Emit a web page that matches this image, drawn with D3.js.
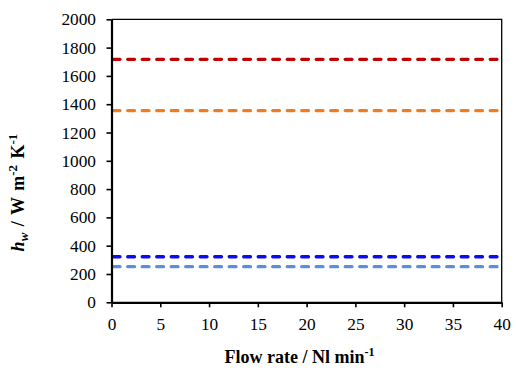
<!DOCTYPE html>
<html>
<head>
<meta charset="utf-8">
<script src="https://cdn.jsdelivr.net/npm/d3@7"></script>
<style>
  html, body { margin: 0; padding: 0; background: #fff; }
</style>
</head>
<body>
<svg id="chart" width="516" height="370"></svg>
<script>
// Heat transfer coefficient h_w versus flow rate, one constant level per case
const flowRates = [0, 40];
const seriesNames = ["case A", "case B", "case C", "case D"];
const seriesLevels = [1717, 1355, 322, 252];
const seriesColors = ["#C00000", "#ED7D22", "#0A0AF5", "#5B90D8"];
const xTicks = [0, 5, 10, 15, 20, 25, 30, 35, 40];
const yTicks = [0, 200, 400, 600, 800, 1000, 1200, 1400, 1600, 1800, 2000];

const serif = '"Liberation Serif", "Times New Roman", serif';
const svg = d3.select("#chart");
const plot = { left: 111.5, top: 19.3, right: 501.7, bottom: 302.3 };

const x = d3.scaleLinear().domain([0, 40]).range([plot.left, plot.right]);
const y = d3.scaleLinear().domain([0, 2000]).range([plot.bottom, plot.top]);

// frame on top and right
svg.append("path")
  .attr("d", `M${plot.left},${plot.top}H${plot.right}V${plot.bottom}`)
  .attr("fill", "none").attr("stroke", "#000").attr("stroke-width", 1.3);

// series: dashed horizontal lines with rounded dash ends
const line = d3.line().x(d => x(d[0])).y(d => y(d[1]));
seriesLevels.forEach((v, i) => {
  svg.append("path")
    .datum(flowRates.map(f => [f, v]))
    .attr("d", line)
    .attr("fill", "none")
    .attr("stroke", seriesColors[i])
    .attr("stroke-width", 3.3)
    .attr("stroke-dasharray", "6.8,7.7")
    .attr("stroke-dashoffset", -1.7)
    .attr("stroke-linecap", "round");
});

// axes
const yAxis = svg.append("g")
  .attr("transform", `translate(${plot.left},0)`)
  .call(d3.axisLeft(y).tickValues(yTicks).tickFormat(d3.format("d"))
    .tickSize(5).tickPadding(10.5).tickSizeOuter(0));
const xAxis = svg.append("g")
  .attr("transform", `translate(0,${plot.bottom})`)
  .call(d3.axisBottom(x).tickValues(xTicks).tickFormat(d3.format("d"))
    .tickSize(5).tickPadding(10).tickSizeOuter(0));

[yAxis, xAxis].forEach(g => {
  g.attr("font-family", serif).attr("font-size", 17.3);
  g.select(".domain").attr("stroke", "#000").attr("stroke-width", 2.2);
  g.selectAll(".tick line").attr("stroke", "#000").attr("stroke-width", 1.6);
  g.selectAll(".tick text").attr("fill", "#000");
});

// x axis title
const xt = svg.append("text")
  .attr("x", 299.5)
  .attr("y", 363)
  .attr("text-anchor", "middle")
  .attr("font-family", serif)
  .attr("fill", "#000")
  .style("font-size", "18px")
  .style("font-weight", "bold");
xt.append("tspan").text("Flow rate / Nl min");
xt.append("tspan").attr("dy", -7).style("font-size", "12px").text("-1");

// y axis title
const yt = svg.append("text")
  .attr("transform", "translate(24,192.5) rotate(-90)")
  .attr("text-anchor", "middle")
  .attr("font-family", serif)
  .attr("fill", "#000")
  .style("font-size", "18px")
  .style("font-weight", "bold")
  .style("word-spacing", "2px");
yt.append("tspan").style("font-style", "italic").text("h");
yt.append("tspan").attr("dy", 4).style("font-style", "italic").style("font-size", "13px").text("w");
yt.append("tspan").attr("dy", -4).text(" / W m");
yt.append("tspan").attr("dy", -7).style("font-size", "13px").text("-2");
yt.append("tspan").attr("dy", 7).text(" K");
yt.append("tspan").attr("dy", -7).style("font-size", "13px").text("-1");
</script>
</body>
</html>
